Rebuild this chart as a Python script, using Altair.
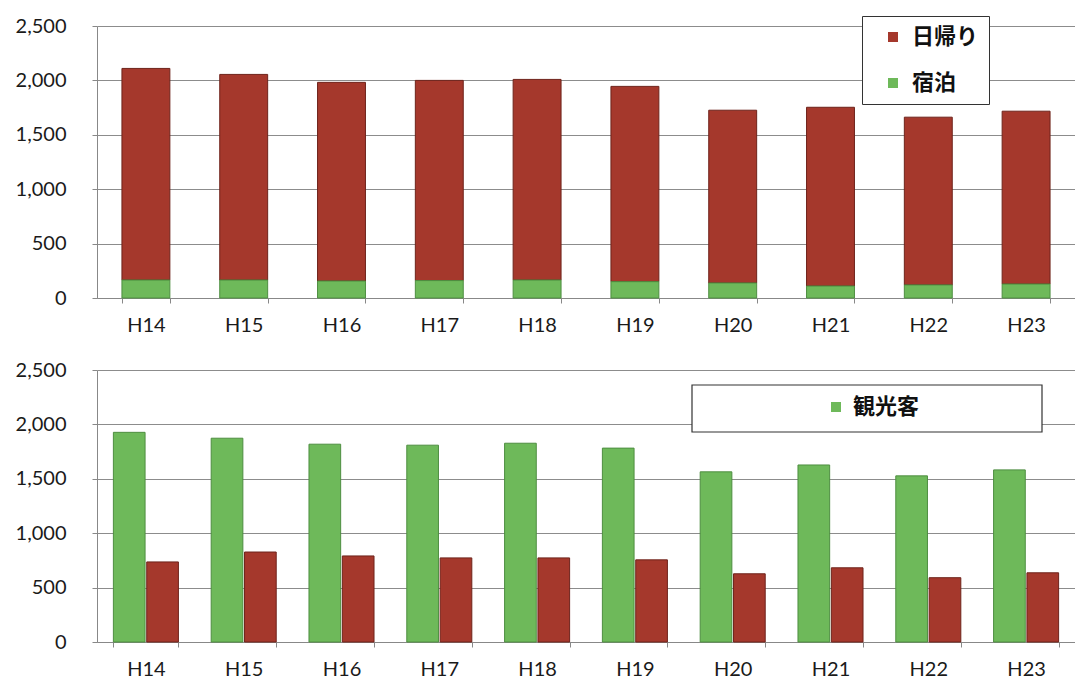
import altair as alt
import pandas as pd

years = ["H14", "H15", "H16", "H17", "H18", "H19", "H20", "H21", "H22", "H23"]

# top chart (stacked): 日帰り on top of 宿泊
daytrip = [1945, 1890, 1826, 1840, 1844, 1795, 1588, 1643, 1542, 1589]
stay = [165, 165, 156, 160, 165, 150, 138, 110, 120, 128]

# bottom chart (grouped)
tourists = [1927, 1873, 1818, 1809, 1827, 1782, 1564, 1627, 1527, 1582]
others = [736, 827, 791, 773, 773, 755, 627, 682, 591, 636]

y_ticks = [0, 500, 1000, 1500, 2000, 2500]

RED = "#A5382C"
GREEN = "#6EB95A"
RED_EDGE = "#6E231B"
GREEN_EDGE = "#4E8E40"

PLOT_W = 978
PLOT_H = 272
AX_FONT = "Lato"

x_axis = alt.Axis(title=None, labelAngle=0, tickBand="extent", tickSize=5,
                  labelPadding=12, labelFontSize=20, labelFont=AX_FONT,
                  labelColor="#1a1a1a", domainColor="#888", tickColor="#888",
                  grid=False)
y_axis = alt.Axis(title=None, values=y_ticks, format=",.0f", tickSize=5,
                  labelPadding=26, labelFontSize=20, labelFont=AX_FONT,
                  labelColor="#1a1a1a", domainColor="#888", tickColor="#888",
                  gridColor="#8c8c8c", gridWidth=1, minExtent=89)

# ---------- top chart ----------
top_df = pd.DataFrame({
    "year": years * 2,
    "series": ["日帰り"] * len(years) + ["宿泊"] * len(years),
    "value": daytrip + stay,
    "ord": [1] * len(years) + [0] * len(years),
})

top = alt.Chart(top_df).mark_bar(strokeWidth=1).encode(
    x=alt.X("year:N", sort=years,
            scale=alt.Scale(paddingInner=0.51, paddingOuter=0.255), axis=x_axis),
    y=alt.Y("value:Q", stack="zero", scale=alt.Scale(domain=[0, 2500]), axis=y_axis),
    color=alt.Color("series:N",
                    scale=alt.Scale(domain=["日帰り", "宿泊"], range=[RED, GREEN]),
                    legend=alt.Legend(title=None, orient="none", legendX=765, legendY=-10,
                                      fillColor="white", strokeColor="#333",
                                      padding=10, symbolOffset=10, labelOffset=8,
                                      symbolType="square", symbolSize=100,
                                      symbolStrokeWidth=0, rowPadding=24,
                                      labelFont="Noto Sans CJK JP", labelFontSize=22,
                                      labelFontWeight="bold", labelColor="#111")),
    stroke=alt.Stroke("series:N",
                      scale=alt.Scale(domain=["日帰り", "宿泊"], range=[RED_EDGE, GREEN_EDGE]),
                      legend=None),
    order=alt.Order("ord:Q"),
).properties(width=PLOT_W, height=PLOT_H)

# ---------- bottom chart ----------
bot_series = ["観光客", "観光客以外"]
bot_df = pd.DataFrame({
    "year": years * 2,
    "series": [bot_series[0]] * len(years) + [bot_series[1]] * len(years),
    "value": tourists + others,
})

bars = alt.Chart(bot_df).mark_bar(strokeWidth=1).encode(
    x=alt.X("year:N", sort=years,
            scale=alt.Scale(paddingInner=0.335, paddingOuter=0.1675), axis=x_axis),
    xOffset=alt.XOffset("series:N", sort=bot_series, scale=alt.Scale(paddingInner=0.05)),
    y=alt.Y("value:Q", scale=alt.Scale(domain=[0, 2500]), axis=y_axis),
    color=alt.Color("series:N",
                    scale=alt.Scale(domain=bot_series, range=[GREEN, RED]),
                    legend=alt.Legend(title=None, values=["観光客"], orient="none",
                                      legendX=728, legendY=26, padding=0,
                                      symbolType="square", symbolSize=100,
                                      symbolStrokeWidth=0, labelOffset=6,
                                      labelFont="Noto Sans CJK JP", labelFontSize=22,
                                      labelFontWeight="bold", labelColor="#111")),
    stroke=alt.Stroke("series:N",
                      scale=alt.Scale(domain=bot_series, range=[GREEN_EDGE, RED_EDGE]),
                      legend=None),
)

legend_box = alt.Chart(pd.DataFrame({"k": [0]})).mark_rect(
    fill="white", stroke="#333", strokeWidth=1.2
).encode(x=alt.value(595), x2=alt.value(945), y=alt.value(15), y2=alt.value(62))

bottom = alt.layer(bars, legend_box).properties(width=PLOT_W, height=PLOT_H)

chart = alt.vconcat(top, bottom, spacing=25).resolve_scale(
    x="independent", y="independent", color="independent", stroke="independent"
).resolve_legend(color="independent").properties(
    padding={"left": 0, "top": 7, "right": 0, "bottom": 0},
    background="white",
).configure_view(stroke=None)

chart.save("out.html", embed_options={"renderer": "svg", "actions": False})
